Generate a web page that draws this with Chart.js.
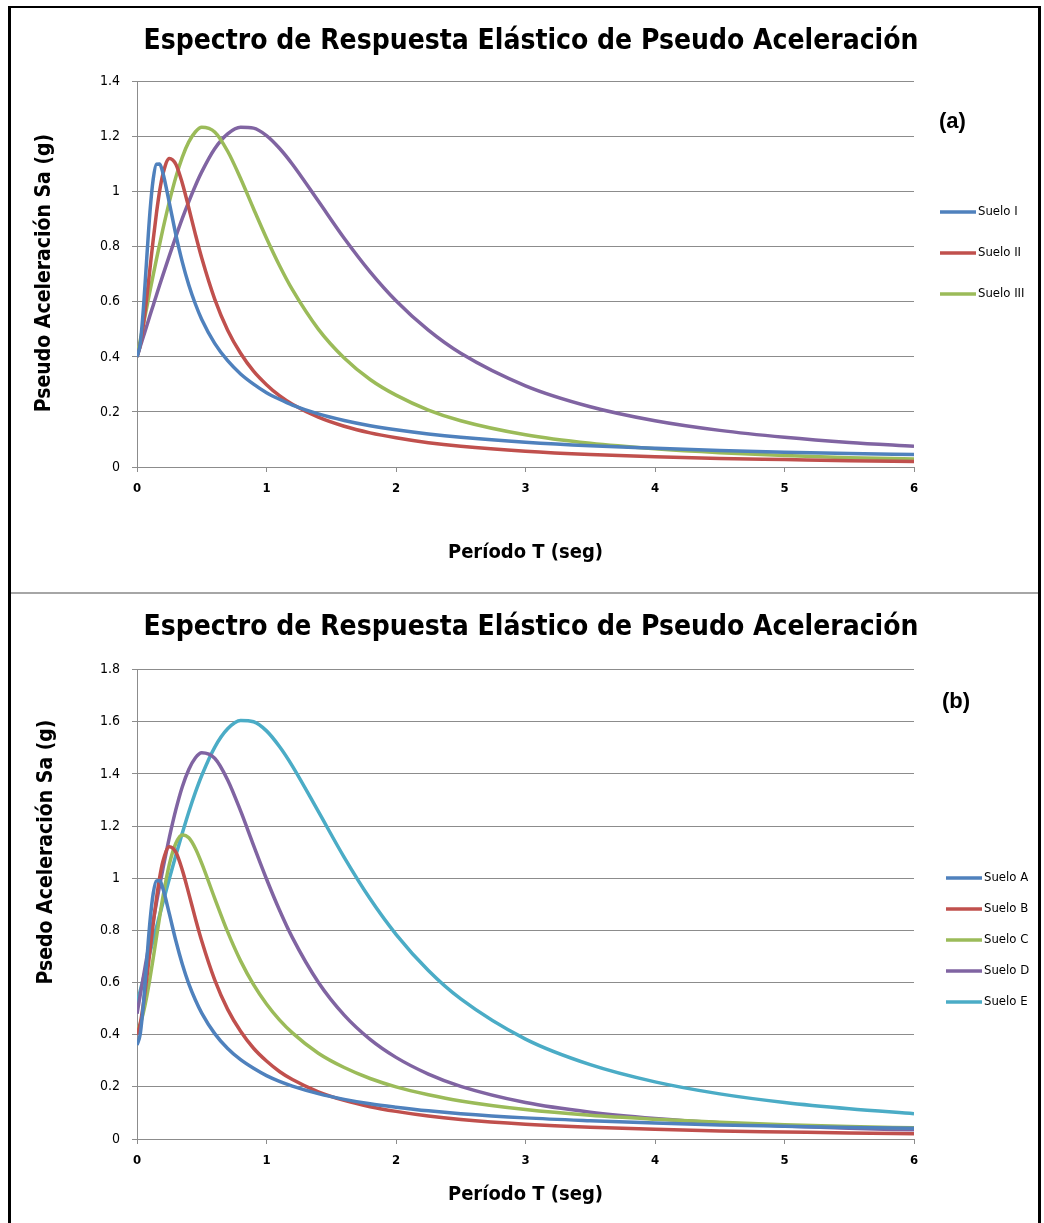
<!DOCTYPE html>
<html>
<head>
<meta charset="utf-8">
<script src="https://cdn.jsdelivr.net/npm/chart.js@4.4.1/dist/chart.umd.min.js"></script>
<style>
  html, body { margin: 0; padding: 0; background: #fff; }
  #page { position: relative; width: 1044px; height: 1223px; overflow: hidden; }
  .frame { position: absolute; left: 8px; top: 6px; width: 1033px; height: 1240px;
           border: 3px solid #000; border-top-width: 2px; box-sizing: border-box; }
  .divider { position: absolute; left: 11px; top: 592px; width: 1027px; height: 2px; background: #a6a6a6; }
  #wrapA { position: absolute; left: 0; top: 0; }
  #wrapB { position: absolute; left: 0; top: 592px; }
</style>
</head>
<body>
<div id="page">
  <div class="frame"></div>
  <div class="divider"></div>
  <div id="wrapA"><canvas id="chartA" width="1044" height="592"></canvas></div>
  <div id="wrapB"><canvas id="chartB" width="1044" height="631"></canvas></div>
</div>
<script>
// periodos (seg) comunes a todas las curvas
const periodos = [0, 0.025, 0.05, 0.075, 0.1, 0.125, 0.15, 0.175, 0.2, 0.25, 0.3, 0.35, 0.4, 0.45, 0.5,
  0.6, 0.7, 0.8, 0.9, 1.0, 1.1, 1.2, 1.4, 1.6, 1.8, 2.0, 2.25, 2.5, 3.0, 3.5, 4.0, 4.5, 5.0, 5.5, 6.0];

// (a) Sa en g
const sueloI = [0.4, 0.448, 0.579, 0.756, 0.926, 1.045, 1.1, 1.101, 1.068, 0.959, 0.844, 0.744, 0.661, 0.593, 0.536,
  0.449, 0.386, 0.338, 0.301, 0.270, 0.246, 0.225, 0.193, 0.169, 0.150, 0.135, 0.120, 0.108, 0.090, 0.077, 0.068, 0.060, 0.054, 0.049, 0.045];
const sueloII = [0.4, 0.443, 0.520, 0.615, 0.720, 0.825, 0.921, 1.003, 1.064, 1.121, 1.1, 1.031, 0.941, 0.847, 0.759,
  0.610, 0.497, 0.413, 0.348, 0.299, 0.259, 0.228, 0.181, 0.148, 0.124, 0.106, 0.088, 0.075, 0.057, 0.045, 0.037, 0.031, 0.027, 0.023, 0.020];
const sueloIII = [0.4, 0.46, 0.520, 0.579, 0.639, 0.697, 0.754, 0.810, 0.864, 0.964, 1.053, 1.126, 1.181, 1.217, 1.234,
  1.217, 1.147, 1.048, 0.938, 0.831, 0.732, 0.644, 0.501, 0.396, 0.318, 0.261, 0.207, 0.168, 0.117, 0.086, 0.066, 0.052, 0.042, 0.034, 0.029];
const sueloIV = [0.4, 0.438, 0.475, 0.512, 0.550, 0.587, 0.624, 0.661, 0.697, 0.768, 0.837, 0.903, 0.964, 1.021, 1.072,
  1.156, 1.210, 1.234, 1.231, 1.204, 1.158, 1.1, 0.966, 0.831, 0.709, 0.604, 0.497, 0.413, 0.295, 0.219, 0.168, 0.133, 0.108, 0.089, 0.075];

// (b) Sa en g
const sueloA = [0.36, 0.403, 0.521, 0.680, 0.833, 0.941, 0.99, 0.991, 0.961, 0.863, 0.760, 0.670, 0.595, 0.534, 0.483,
  0.404, 0.347, 0.304, 0.271, 0.243, 0.221, 0.203, 0.174, 0.152, 0.135, 0.122, 0.108, 0.097, 0.081, 0.070, 0.061, 0.054, 0.049, 0.044, 0.041];
const sueloB = [0.4, 0.443, 0.520, 0.615, 0.720, 0.825, 0.921, 1.003, 1.064, 1.121, 1.1, 1.031, 0.941, 0.847, 0.759,
  0.610, 0.497, 0.413, 0.348, 0.299, 0.259, 0.228, 0.181, 0.148, 0.124, 0.106, 0.088, 0.075, 0.057, 0.045, 0.037, 0.031, 0.027, 0.023, 0.020];
const sueloC = [0.42, 0.442, 0.487, 0.546, 0.616, 0.693, 0.773, 0.852, 0.928, 1.054, 1.134, 1.166, 1.155, 1.115, 1.057,
  0.923, 0.794, 0.683, 0.592, 0.518, 0.457, 0.407, 0.329, 0.274, 0.232, 0.200, 0.170, 0.146, 0.113, 0.091, 0.076, 0.064, 0.055, 0.048, 0.043];
const sueloD = [0.48, 0.552, 0.624, 0.695, 0.766, 0.836, 0.905, 0.972, 1.036, 1.157, 1.263, 1.351, 1.417, 1.461, 1.481,
  1.460, 1.377, 1.258, 1.126, 0.997, 0.878, 0.772, 0.601, 0.475, 0.382, 0.313, 0.249, 0.202, 0.140, 0.103, 0.079, 0.062, 0.050, 0.041, 0.035];
const sueloE = [0.52, 0.569, 0.618, 0.666, 0.715, 0.763, 0.811, 0.859, 0.906, 0.999, 1.088, 1.173, 1.254, 1.328, 1.394,
  1.502, 1.573, 1.605, 1.600, 1.565, 1.505, 1.430, 1.256, 1.080, 0.921, 0.785, 0.646, 0.537, 0.383, 0.285, 0.219, 0.173, 0.140, 0.116, 0.097];

const xTicks = [0, 1, 2, 3, 4, 5, 6];

const NARROW = "'DejaVu Sans Condensed', 'Liberation Sans Narrow', sans-serif";
const GRID = "#8c8c8c";
Chart.defaults.font.family = NARROW;
Chart.defaults.color = "#000";

function serie(label, values, color, hidden) {
  return {
    label: label,
    data: periodos.map((t, i) => ({ x: t, y: values[i] })),
    borderColor: color,
    backgroundColor: color,
    borderWidth: 3.5,
    pointRadius: 0,
    cubicInterpolationMode: "monotone",
    hideInLegend: !!hidden
  };
}

// leyenda, etiqueta del panel y titulo del eje y
const panelExtras = {
  id: "panelExtras",
  afterDraw(chart, args, opts) {
    const ctx = chart.ctx;
    ctx.save();
    ctx.fillStyle = "#000";
    ctx.textBaseline = "middle";
    ctx.font = "bold 22px 'Liberation Sans', Arial, sans-serif";
    ctx.textAlign = "left";
    ctx.fillText(opts.label, opts.labelX, opts.labelY);

    // titulo eje y
    ctx.save();
    ctx.translate(opts.yTitleX, opts.yTitleY);
    ctx.rotate(-Math.PI / 2);
    ctx.textAlign = "center";
    ctx.font = "bold 21px " + NARROW;
    ctx.fillText(opts.yTitle, 0, 0);
    ctx.restore();

    let k = 0;
    ctx.font = "13px " + NARROW;
    chart.data.datasets.forEach((ds) => {
      if (ds.hideInLegend) return;
      const y = opts.legendTop + k * opts.legendStep;
      ctx.strokeStyle = ds.borderColor;
      ctx.lineWidth = 3.5;
      ctx.beginPath();
      ctx.moveTo(opts.legendX, y);
      ctx.lineTo(opts.legendX + 36, y);
      ctx.stroke();
      ctx.fillText(ds.label, opts.legendX + 38, y);
      k++;
    });
    ctx.restore();
  }
};

function opciones(cfg) {
  return {
    responsive: false,
    animation: false,
    layout: { padding: { left: 18, right: 0, top: 10, bottom: cfg.bottomPad } },
    plugins: {
      legend: { display: false },
      tooltip: { enabled: false },
      title: {
        display: true,
        text: "Espectro de Respuesta Elástico de Pseudo Aceleración",
        font: { size: 28, weight: "bold", family: NARROW },
        color: "#000",
        padding: { top: cfg.titleTop, bottom: cfg.titleBottom }
      },
      panelExtras: cfg.extras
    },
    scales: {
      x: {
        type: "linear",
        min: 0,
        max: 6,
        afterBuildTicks: (scale) => { scale.ticks = xTicks.map((v) => ({ value: v })); },
        afterFit: (scale) => { scale.height = cfg.xHeight; },
        grid: { drawOnChartArea: false, drawTicks: true, tickLength: 5, color: GRID },
        border: { display: true, color: GRID, width: 1 },
        ticks: { padding: 9, font: { size: 13, weight: "bold" }, color: "#000" },
        title: {
          display: true,
          text: "Período T (seg)",
          font: { size: 20, weight: "bold" },
          color: "#000",
          padding: { top: 0, bottom: cfg.xTitlePad }
        }
      },
      y: {
        min: 0,
        max: cfg.yMax,
        afterFit: (scale) => { scale.width = 119; },
        grid: { drawTicks: true, tickLength: 5, color: GRID, lineWidth: 1 },
        border: { display: true, color: GRID, width: 1 },
        ticks: {
          stepSize: 0.2,
          padding: 12,
          font: { size: 14 },
          color: "#000",
          callback: (v) => String(+v.toFixed(1))
        }
      },
      // espacio reservado para la leyenda a la derecha
      espacio: {
        type: "linear",
        position: "right",
        display: true,
        afterFit: (scale) => { scale.width = 130; },
        grid: { display: false },
        border: { display: false },
        ticks: { display: false }
      }
    }
  };
}

new Chart(document.getElementById("chartA"), {
  type: "line",
  data: {
    datasets: [
      serie("Suelo I", sueloI, "#4F81BD"),
      serie("Suelo II", sueloII, "#C0504D"),
      serie("Suelo III", sueloIII, "#9BBB59"),
      serie("Suelo IV", sueloIV, "#8064A2", true)
    ]
  },
  options: opciones({
    bottomPad: 10, titleTop: 15, titleBottom: 23, xHeight: 115, xTitlePad: 17, yMax: 1.4,
    extras: {
      label: "(a)", labelX: 939, labelY: 122,
      yTitle: "Pseudo Aceleración Sa (g)", yTitleX: 45, yTitleY: 273,
      legendX: 940, legendTop: 212, legendStep: 41
    }
  }),
  plugins: [panelExtras]
});

new Chart(document.getElementById("chartB"), {
  type: "line",
  data: {
    datasets: [
      serie("Suelo A", sueloA, "#4F81BD"),
      serie("Suelo B", sueloB, "#C0504D"),
      serie("Suelo C", sueloC, "#9BBB59"),
      serie("Suelo D", sueloD, "#8064A2"),
      serie("Suelo E", sueloE, "#4BACC6")
    ]
  },
  options: opciones({
    bottomPad: 8, titleTop: 9, titleBottom: 25, xHeight: 76, xTitlePad: 8, yMax: 1.8,
    extras: {
      label: "(b)", labelX: 942, labelY: 110,
      yTitle: "Psedo Aceleración Sa (g)", yTitleX: 47, yTitleY: 260,
      legendX: 946, legendTop: 286, legendStep: 31
    }
  }),
  plugins: [panelExtras]
});
</script>
</body>
</html>
